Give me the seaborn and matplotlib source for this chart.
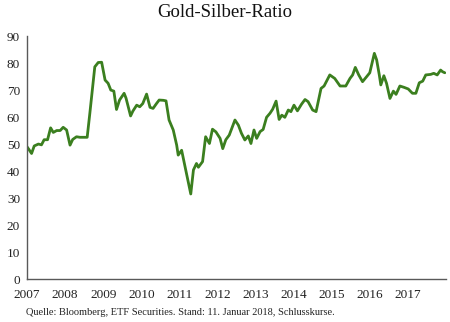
import matplotlib
matplotlib.use("Agg")
import matplotlib.pyplot as plt
import seaborn as sns
import pandas as pd

# Gold/silver price ratio, time in decimal years
years = [
    2007.00, 2007.05, 2007.12, 2007.19, 2007.30, 2007.38, 2007.45, 2007.54, 2007.62, 2007.69,
    2007.78, 2007.87, 2007.95, 2008.04, 2008.13, 2008.20, 2008.30, 2008.39, 2008.48, 2008.58,
    2008.65, 2008.78, 2008.87, 2008.96, 2009.05, 2009.13, 2009.20, 2009.28, 2009.35, 2009.43,
    2009.55, 2009.60, 2009.72, 2009.78, 2009.88, 2009.96, 2010.04, 2010.14, 2010.23, 2010.31,
    2010.40, 2010.47, 2010.58, 2010.65, 2010.73, 2010.84, 2010.93, 2010.97, 2011.06, 2011.15,
    2011.30, 2011.37, 2011.45, 2011.50, 2011.61, 2011.69, 2011.79, 2011.87, 2011.96, 2012.07,
    2012.14, 2012.22, 2012.31, 2012.46, 2012.55, 2012.63, 2012.72, 2012.81, 2012.88, 2012.96,
    2013.03, 2013.12, 2013.20, 2013.29, 2013.38, 2013.45, 2013.54, 2013.62, 2013.69, 2013.77,
    2013.86, 2013.93, 2014.01, 2014.10, 2014.21, 2014.30, 2014.38, 2014.50, 2014.59, 2014.72,
    2014.80, 2014.95, 2015.08, 2015.22, 2015.37, 2015.48, 2015.55, 2015.62, 2015.71, 2015.81,
    2015.92, 2016.00, 2016.12, 2016.18, 2016.25, 2016.29, 2016.37, 2016.44, 2016.53, 2016.62,
    2016.69, 2016.79, 2016.90, 2017.01, 2017.12, 2017.21, 2017.30, 2017.39, 2017.47, 2017.60,
    2017.68, 2017.77, 2017.86, 2017.91, 2017.97,
]
ratio = [
    49.0, 48.0, 46.5, 49.3, 50.0, 49.7, 51.6, 51.6, 56.0, 54.3,
    55.0, 55.0, 56.2, 55.2, 49.6, 51.7, 52.7, 52.5, 52.5, 52.5,
    61.4, 78.6, 80.2, 80.3, 73.7, 72.5, 70.0, 69.6, 62.8, 66.3,
    68.8, 67.0, 60.4, 62.2, 64.4, 63.8, 65.0, 68.5, 63.6, 63.2,
    65.0, 66.3, 66.2, 66.0, 58.9, 55.2, 49.6, 45.9, 47.7, 41.6,
    31.5, 40.4, 42.8, 41.4, 43.5, 52.7, 50.2, 55.5, 54.5, 52.1,
    48.3, 51.6, 53.3, 58.9, 57.0, 54.0, 51.5, 53.0, 50.2, 55.2,
    52.1, 54.6, 55.4, 59.9, 61.4, 62.9, 65.9, 59.1, 60.7, 59.9,
    62.6, 62.0, 64.4, 62.3, 64.8, 66.5, 65.7, 62.6, 62.0, 70.6,
    71.5, 75.6, 74.3, 71.5, 71.5, 74.3, 75.6, 78.4, 75.6, 73.1,
    75.0, 76.4, 83.6, 81.2, 75.6, 71.9, 75.3, 72.5, 66.9, 69.6,
    68.4, 71.5, 71.0, 70.4, 68.8, 68.8, 72.7, 73.3, 75.6, 75.8,
    76.2, 75.6, 77.4, 76.8, 76.4,
]

year_ticks = list(range(2007, 2019))
year_labels = [str(y) for y in range(2007, 2018)] + [""]
y_ticks = list(range(0, 91, 10))

title = "Gold-Silber-Ratio"
source = "Quelle: Bloomberg, ETF Securities. Stand: 11. Januar 2018, Schlusskurse."

sns.set_theme(style="white")
plt.rcParams["font.family"] = ["Liberation Serif", "DejaVu Serif"]

df = pd.DataFrame({"Jahr": years, "Ratio": ratio})

fig = plt.figure(figsize=(4.5, 3.22), dpi=100)
ax = fig.add_axes([0.06, 0.1335, 0.931, 0.7545])

sns.lineplot(data=df, x="Jahr", y="Ratio", ax=ax, color="#3b7f1f",
             linewidth=2.0, sort=False)

ax.set_xlim(2007, 2018)
ax.set_ylim(0, 90)
ax.set_xticks(year_ticks)
ax.set_xticklabels(year_labels)
ax.set_yticks(y_ticks)
ax.set_xlabel("")
ax.set_ylabel("")

for side in ("top", "right"):
    ax.spines[side].set_visible(False)
for side in ("left", "bottom"):
    ax.spines[side].set_color("#595959")
    ax.spines[side].set_linewidth(1.0)

ax.tick_params(axis="both", which="major", direction="out", length=3,
               width=1.0, color="#595959", labelsize=9.5, labelcolor="#222222",
               pad=2)
ax.tick_params(axis="x", pad=4)

fig.text(0.5, 0.962, title, ha="center", va="center", fontsize=13.5,
         color="#111111")
fig.text(0.058, 0.03, source, ha="left", va="center", fontsize=7.5,
         color="#222222")

fig.savefig("out.png", dpi=100)
